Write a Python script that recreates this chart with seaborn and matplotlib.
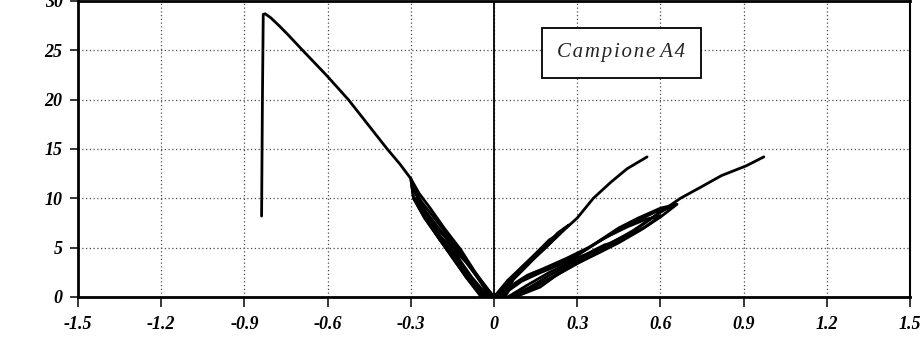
import numpy as np
import pandas as pd
import matplotlib
matplotlib.use("Agg")
import matplotlib.pyplot as plt
import seaborn as sns

# ---------------- data ----------------
# left (negative displacement) cycles
neg1_x = [-0.02, -0.08, -0.13, -0.19, -0.15, -0.10, -0.06, -0.01]
neg1_y = [0.0, 2.0, 4.0, 6.0, 5.0, 3.5, 2.0, 0.0]
neg2_x = [-0.035, -0.09, -0.14, -0.195, -0.24, -0.20, -0.15, -0.10, -0.055, 0.0]
neg2_y = [0.0, 2.0, 4.0, 6.0, 8.0, 6.8, 5.2, 3.6, 2.0, 0.0]
neg3_x = [-0.04, -0.095, -0.145, -0.20, -0.245, -0.285, -0.25, -0.20, -0.14, -0.09, -0.05, -0.015]
neg3_y = [0.0, 2.0, 4.0, 6.0, 8.0, 10.0, 8.8, 7.0, 5.0, 3.2, 1.6, 0.0]
neg4_x = [-0.03, -0.085, -0.14, -0.19, -0.24, -0.28, -0.295, -0.26, -0.215, -0.16, -0.11, -0.065, -0.02, -0.005]
neg4_y = [0.0, 2.0, 4.2, 6.0, 8.2, 10.3, 11.2, 9.6, 8.0, 6.0, 4.2, 2.3, 0.5, 0.0]
neg5_x = [-0.045, -0.10, -0.15, -0.20, -0.25, -0.29, -0.30, -0.27, -0.23, -0.18, -0.12, -0.07, -0.03, 0.0]
neg5_y = [0.0, 2.0, 4.0, 6.0, 8.0, 10.0, 12.0, 10.5, 9.0, 7.0, 4.8, 2.6, 1.0, 0.0]
neg6_x = [-0.045, -0.10, -0.15, -0.20, -0.25, -0.29, -0.30, -0.34, -0.385, -0.455,
          -0.525, -0.605, -0.69, -0.74, -0.775, -0.805, -0.825, -0.832, -0.835, -0.838]
neg6_y = [0.0, 2.0, 4.0, 6.0, 8.0, 10.0, 12.0, 13.5, 15.0, 17.5,
          20.0, 22.5, 25.0, 26.5, 27.5, 28.3, 28.7, 28.65, 20.0, 8.2]

# right (positive displacement), steep branch
pu1_x = [0.0, 0.06, 0.12, 0.19, 0.24, 0.20, 0.15, 0.10, 0.05, 0.02]
pu1_y = [0.0, 1.8, 3.4, 5.2, 6.5, 5.8, 4.4, 3.0, 1.4, 0.0]
pu2_x = [0.01, 0.07, 0.13, 0.20, 0.27, 0.23, 0.18, 0.12, 0.07, 0.03]
pu2_y = [0.0, 1.8, 3.5, 5.4, 7.3, 6.5, 5.0, 3.2, 1.8, 0.0]
pu3_x = [0.0, 0.05, 0.11, 0.18, 0.22, 0.19, 0.14, 0.09, 0.04, 0.01]
pu3_y = [0.0, 1.7, 3.3, 5.1, 6.0, 5.4, 4.0, 2.5, 1.0, 0.0]
pu4_x = [0.0, 0.06, 0.12, 0.19, 0.245, 0.30, 0.358, 0.42, 0.48, 0.552]
pu4_y = [0.0, 1.7, 3.3, 5.1, 6.6, 8.0, 10.0, 11.6, 13.0, 14.2]

# right (positive displacement), soft branch
pl1_x = [0.06, 0.12, 0.20, 0.30, 0.38, 0.45, 0.40, 0.33, 0.25, 0.17, 0.10, 0.05, 0.03]
pl1_y = [0.0, 0.8, 1.8, 3.4, 4.6, 5.6, 5.3, 4.3, 3.4, 2.5, 1.6, 0.6, 0.0]
pl2_x = [0.07, 0.14, 0.22, 0.30, 0.38, 0.46, 0.54, 0.60, 0.55, 0.48, 0.40, 0.32, 0.24, 0.16, 0.10, 0.04, 0.02]
pl2_y = [0.0, 0.9, 2.2, 3.5, 4.8, 5.9, 7.0, 8.2, 7.9, 7.1, 6.0, 4.6, 3.5, 2.5, 1.8, 0.6, 0.0]
pl3_x = [0.076, 0.166, 0.23, 0.30, 0.38, 0.45, 0.53, 0.60, 0.66, 0.60, 0.52, 0.45, 0.38, 0.30, 0.22, 0.14, 0.06, 0.04]
pl3_y = [0.0, 1.0, 2.3, 3.4, 4.5, 5.5, 6.8, 8.1, 9.4, 9.0, 8.0, 7.0, 5.7, 4.2, 3.2, 2.4, 1.0, 0.0]
pl4_x = [0.05, 0.12, 0.20, 0.30, 0.40, 0.50, 0.60, 0.64, 0.58, 0.50, 0.42, 0.34, 0.26, 0.18, 0.12, 0.07, 0.03]
pl4_y = [0.0, 1.2, 2.5, 3.8, 5.2, 6.6, 8.6, 9.2, 8.6, 7.5, 6.3, 5.0, 3.9, 2.9, 2.2, 1.3, 0.0]
pl5_x = [0.06, 0.13, 0.20, 0.30, 0.40, 0.50, 0.60, 0.672, 0.75, 0.82, 0.91, 0.973]
pl5_y = [0.0, 1.0, 2.2, 3.7, 5.1, 6.7, 8.6, 10.0, 11.2, 12.3, 13.3, 14.2]

x_ticks = [-1.5, -1.2, -0.9, -0.6, -0.3, 0, 0.3, 0.6, 0.9, 1.2, 1.5]
x_tick_labels = ["-1.5", "-1.2", "-0.9", "-0.6", "-0.3", "0", "0.3", "0.6", "0.9", "1.2", "1.5"]
y_ticks = [0, 5, 10, 15, 20, 25, 30]
y_tick_labels = ["0", "5", "10", "15", "20", "25", "30"]
label_text = "Campione A4"

# ---------------- build table ----------------
series = [
    (neg1_x, neg1_y), (neg2_x, neg2_y), (neg3_x, neg3_y), (neg4_x, neg4_y),
    (neg5_x, neg5_y), (neg6_x, neg6_y),
    (pu1_x, pu1_y), (pu2_x, pu2_y), (pu3_x, pu3_y), (pu4_x, pu4_y),
    (pl1_x, pl1_y), (pl2_x, pl2_y), (pl3_x, pl3_y), (pl4_x, pl4_y), (pl5_x, pl5_y),
]
frames = []
for i, (xs, ys) in enumerate(series):
    frames.append(pd.DataFrame({"x": xs, "y": ys, "seg": i}))
df = pd.concat(frames, ignore_index=True)

# ---------------- plot ----------------
sns.set_style("white")
plt.rcParams["font.family"] = ["Liberation Serif", "DejaVu Serif"]

fig = plt.figure(figsize=(9.23, 3.40), dpi=100)
ax = fig.add_axes([0.0845, 0.1265, 0.9014, 0.8706])

ax.grid(True, color="0.3", linestyle=(0, (1, 2)), linewidth=0.9)
ax.set_axisbelow(True)
ax.axvline(0, color="black", lw=1.3, zorder=2)

sns.lineplot(data=df, x="x", y="y", units="seg", estimator=None, sort=False,
             color="black", linewidth=2.0, ax=ax, legend=False, zorder=3)

ax.set_xlim(-1.5, 1.5)
ax.set_ylim(0, 30)
ax.set_xticks(x_ticks)
ax.set_xticklabels(x_tick_labels)
ax.set_yticks(y_ticks)
ax.set_yticklabels(y_tick_labels)
ax.set_xlabel("")
ax.set_ylabel("")

for lab in ax.get_xticklabels() + ax.get_yticklabels():
    lab.set_fontweight("bold")
    lab.set_fontstyle("italic")
    lab.set_fontsize(13)
    lab.set_color("black")

ax.tick_params(axis="x", direction="out", length=7, width=1.3, pad=7, bottom=True)
ax.tick_params(axis="y", direction="out", length=6, width=1.3, pad=5, left=True)

for side, lw in [("left", 2.0), ("bottom", 2.0), ("top", 2.0), ("right", 1.5)]:
    ax.spines[side].set_visible(True)
    ax.spines[side].set_color("black")
    ax.spines[side].set_linewidth(lw)

spaced = "\u200a".join(list("Campione")) + " " + "A\u200a4"
ax.text(0.459, 24.75, spaced, fontsize=15, fontstyle="italic",
        ha="center", va="center", zorder=5,
        bbox=dict(boxstyle="square,pad=0.75", facecolor="white",
                  edgecolor="black", linewidth=1.3))

fig.savefig("out.png", dpi=100)
